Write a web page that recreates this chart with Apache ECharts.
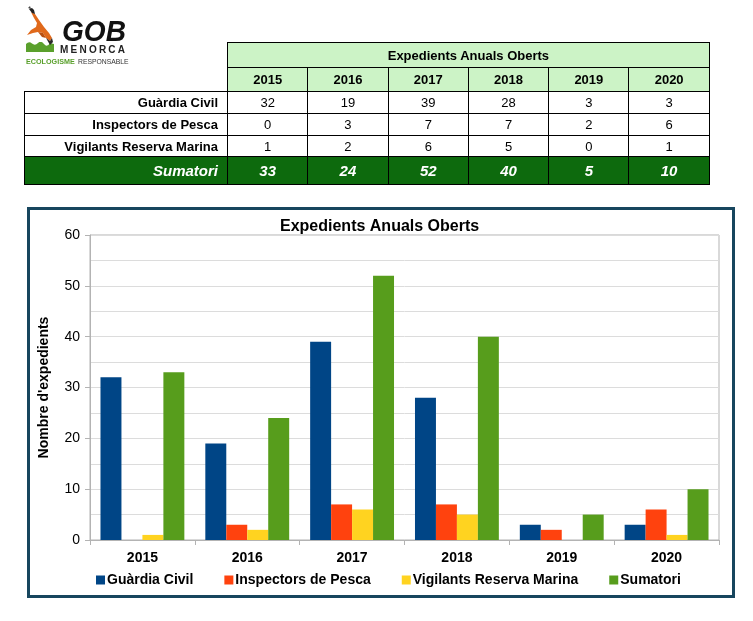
<!DOCTYPE html>
<html>
<head>
<meta charset="utf-8">
<script src="https://cdn.jsdelivr.net/npm/echarts@6/dist/echarts.min.js"></script>
<style>
  html, body { margin:0; padding:0; background:#fff; }
  body { width:753px; height:621px; position:relative; overflow:hidden; font-family:'Liberation Sans', Arial, sans-serif; }
  #chart { position:absolute; left:0; top:0; width:753px; height:621px; }
  #logo { position:absolute; left:0; top:0; width:200px; height:75px; z-index:2; }
  #tbl { position:absolute; left:24px; top:42px; z-index:2; border-collapse:collapse; table-layout:fixed; }
  #tbl td { padding:0; font-size:13px; color:#000; }
  #tbl td.blank { border:none; }
  #tbl td.hd { background:#ccf3c6; border:1px solid #000; font-weight:bold; text-align:center; }
  #tbl td.lab { border:1px solid #000; font-weight:bold; text-align:right; padding-right:9px; }
  #tbl td.num { border:1px solid #000; text-align:center; }
  #tbl tr.sum td { background:#0d6a0d; color:#fff; font-weight:bold; font-style:italic; font-size:15px; border:1px solid #000; }
</style>
</head>
<body>
<div id="chart"></div>
<svg id="logo" viewBox="0 0 200 75" xmlns="http://www.w3.org/2000/svg">
  <!-- grass -->
  <rect x="26" y="42" width="28" height="10" fill="#5aa02c"/>
  <path d="M26,44 Q29,41 32,43.5 T38,43 T44,44 T50,43 L54,44 L54,42 L26,42 Z" fill="#fff"/>
  <!-- bird (kite) -->
  <path d="M31,12 L35,14 L39,20 L44,27 L49,33 L52,38 L50,41 L46,38 L43,33 L38,32 L33,33 L27,35 L31,30 L36,27 L37,23 L34,18 Z" fill="#e0691b"/>
  <path d="M38,32 L43,33 L46,38 L42,37 Z" fill="#b84f10"/>
  <path d="M29,9 L32,8 L34,10 L35,14 L32,13 Z" fill="#222"/>
  <path d="M28,8 L30,6 L31,9 Z" fill="#444"/>
  <path d="M46,38 L50,41 L52,38 L53,42 L50,45 Z" fill="#2a2a2a"/>
  <text x="62" y="41" font-family="Liberation Sans, Arial" font-weight="bold" font-style="italic" font-size="30" fill="#111" textLength="64" lengthAdjust="spacingAndGlyphs">GOB</text>
  <text x="60" y="53" font-family="Liberation Sans, Arial" font-weight="bold" font-size="10" fill="#222" textLength="65" lengthAdjust="spacing">MENORCA</text>
  <text x="26" y="64" font-family="Liberation Sans, Arial" font-weight="bold" font-size="7.2" fill="#5aa02c">ECOLOGISME</text>
  <text x="78" y="64" font-family="Liberation Sans, Arial" font-size="6.8" fill="#333">RESPONSABLE</text>
</svg>
<table id="tbl"></table>
<script>
const years = ['2015', '2016', '2017', '2018', '2019', '2020'];
const seriesNames = ['Guàrdia Civil', 'Inspectors de Pesca', 'Vigilants Reserva Marina', 'Sumatori'];
const guardiaCivil = [32, 19, 39, 28, 3, 3];
const inspectorsPesca = [0, 3, 7, 7, 2, 6];
const vigilantsReserva = [1, 2, 6, 5, 0, 1];
const sumatori = [33, 24, 52, 40, 5, 10];
const yTicks = [0, 10, 20, 30, 40, 50, 60];
const titleText = 'Expedients Anuals Oberts';
const yName = "Nombre d'expedients";
const colors = ['#004586', '#ff420e', '#ffd320', '#579d1c'];

// ----- table -----
(function buildTable() {
  const t = document.getElementById('tbl');
  const colW = 80.3;
  let html = '<colgroup><col style="width:203px">' + years.map(() => '<col style="width:' + colW + 'px">').join('') + '</colgroup>';
  html += '<tr style="height:25px"><td class="blank"></td><td class="hd" colspan="' + years.length + '">' + titleText + '</td></tr>';
  html += '<tr style="height:24px"><td class="blank"></td>' + years.map(y => '<td class="hd">' + y + '</td>').join('') + '</tr>';
  const rows = [[seriesNames[0], guardiaCivil, 22], [seriesNames[1], inspectorsPesca, 22], [seriesNames[2], vigilantsReserva, 21]];
  rows.forEach(r => {
    html += '<tr style="height:' + r[2] + 'px"><td class="lab">' + r[0] + '</td>' + r[1].map(v => '<td class="num">' + v + '</td>').join('') + '</tr>';
  });
  html += '<tr class="sum" style="height:28px"><td style="text-align:right;padding-right:9px">' + seriesNames[3] + '</td>' + sumatori.map(v => '<td style="text-align:center">' + v + '</td>').join('') + '</tr>';
  t.innerHTML = html;
})();

// ----- chart -----
const chart = echarts.init(document.getElementById('chart'), null, { renderer: 'canvas' });
const dataSets = [guardiaCivil, inspectorsPesca, vigilantsReserva, sumatori];
const font = "'Liberation Sans', Arial, sans-serif";
chart.setOption({
  animation: false,
  color: colors,
  textStyle: { fontFamily: font },
  graphic: [
    { type: 'rect', z: -10, shape: { x: 28.5, y: 208.5, width: 705, height: 388 },
      style: { fill: 'transparent', stroke: '#17465e', lineWidth: 3 } },
    { type: 'text', left: 280, top: 219,
      style: { text: titleText, font: "bold 16px 'Liberation Sans', Arial", fill: '#000' } }
  ],
  grid: { left: 90, right: 34, top: 235, bottom: 81, show: true, borderColor: '#b3b3b3', borderWidth: 1, containLabel: false },
  legend: {
    left: 96, top: 573, padding: 0, itemWidth: 9, itemHeight: 9, itemGap: 31, icon: 'rect',
    textStyle: { fontFamily: font, fontWeight: 'bold', fontSize: 14, color: '#000', padding: [0, 0, 0, -3] },
    data: seriesNames
  },
  xAxis: {
    type: 'category', data: years,
    axisLine: { lineStyle: { color: '#b3b3b3' } },
    axisTick: { show: true, length: 5, lineStyle: { color: '#b3b3b3' } },
    axisLabel: { fontFamily: font, fontWeight: 'bold', fontSize: 14, color: '#000', margin: 11 },
    splitLine: { show: false }
  },
  yAxis: {
    type: 'value', min: yTicks[0], max: yTicks[yTicks.length - 1], interval: 10,
    name: yName, nameLocation: 'middle', nameGap: 39, nameRotate: 90,
    nameTextStyle: { fontFamily: font, fontWeight: 'bold', fontSize: 14, color: '#000' },
    axisLine: { show: true, lineStyle: { color: '#b3b3b3' } },
    axisTick: { show: true, length: 5, lineStyle: { color: '#b3b3b3' } },
    axisLabel: { fontFamily: font, fontSize: 14, color: '#000', margin: 10 },
    splitLine: { show: true, lineStyle: { color: '#dcdcdc' } },
    minorTick: { show: false, splitNumber: 2 },
    minorSplitLine: { show: true, lineStyle: { color: '#dcdcdc' } }
  },
  series: seriesNames.map((n, i) => ({
    name: n, type: 'bar', data: dataSets[i], barGap: '0%', barCategoryGap: '20%'
  }))
});
</script>
</body>
</html>
